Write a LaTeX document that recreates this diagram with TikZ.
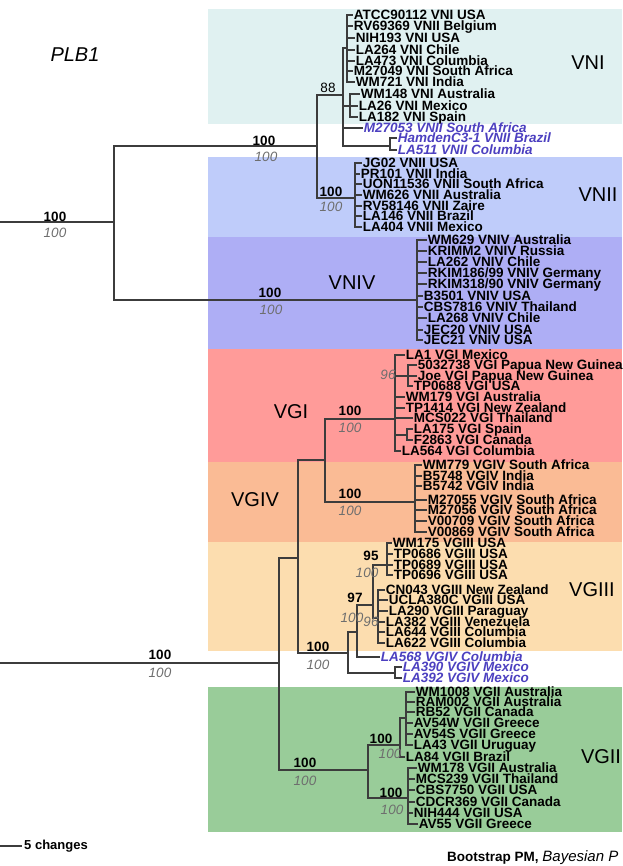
\documentclass[tikz,border=0pt]{standalone}
\usepackage{fontspec}
\setmainfont{Liberation Sans}
\usepackage{tikz}
\usetikzlibrary{positioning}
\definecolor{bandvni}{HTML}{E0F1F1}
\definecolor{bandvnii}{HTML}{BFCCFA}
\definecolor{bandvniv}{HTML}{AEAEF5}
\definecolor{bandvgi}{HTML}{FF9B99}
\definecolor{bandvgiv}{HTML}{FABB95}
\definecolor{bandvgiii}{HTML}{FCDDAF}
\definecolor{bandvgii}{HTML}{99CC99}
\definecolor{treegray}{HTML}{3C3C3C}
\definecolor{postgray}{HTML}{6E6E6E}
\definecolor{oddblue}{HTML}{4C40C0}
\tikzset{
  treeedge/.style  = {draw=treegray, line width=1.1pt},
  treetip/.style   = {anchor=west, inner sep=0.6pt, text height=9.7pt,
                      text depth=0pt, font=\fontsize{13.5}{13.5}\selectfont\bfseries},
  treestray/.style = {treetip, text=oddblue,
                      font=\fontsize{13.5}{13.5}\selectfont\bfseries\itshape},
  treeboot/.style  = {inner sep=0pt, font=\fontsize{13.5}{13.5}\selectfont\bfseries},
  treepost/.style  = {inner sep=0pt, text=postgray,
                      font=\fontsize{13.5}{13.5}\selectfont\itshape},
  treeclade/.style = {inner sep=0pt, font=\fontsize{20}{20}\selectfont},
}

\begin{document}
\begin{tikzpicture}[x=1pt, y=-1pt]
  \useasboundingbox (0,0) rectangle (622,866);
  % clade bands
  \fill[bandvni]   (208,9)   rectangle (622,124);
  \fill[bandvnii]  (208,157) rectangle (622,237);
  \fill[bandvniv]  (208,237) rectangle (622,349);
  \fill[bandvgi]   (208,349) rectangle (622,462);
  \fill[bandvgiv]  (208,462) rectangle (622,542);
  \fill[bandvgiii] (208,542) rectangle (622,651);
  \fill[bandvgii]  (208,687) rectangle (622,832);

  \node[treeclade, font=\fontsize{20}{20}\selectfont\itshape] (plb) at (75,55) {PLB1};
  \node[treeclade] (cvni)   at (588,63)  {VNI};
  \node[treeclade] (cvnii)  at (598,195) {VNII};
  \node[treeclade] (cvniv)  at (352,283) {VNIV};
  \node[treeclade] (cvgi)   at (291,412) {VGI};
  \node[treeclade] (cvgiv)  at (255,500) {VGIV};
  \node[treeclade] (cvgiii) at (592,590) {VGIII};
  \node[treeclade] (cvgii)  at (601,757) {VGII};

  % tips
  \node[treetip] (ni1) at (353,15) {ATCC90112 VNI USA};
  \node[treetip] (ni2) at (353,26) {RV69369 VNII Belgium};
  \node[treetip] (ni3) at (355,38) {NIH193 VNI USA};
  \node[treetip] (ni4) at (355,50) {LA264 VNI Chile};
  \node[treetip] (ni5) at (355,61) {LA473 VNI Columbia};
  \node[treetip] (ni6) at (353,71) {M27049 VNI South Africa};
  \node[treetip] (ni7) at (355,82) {WM721 VNI India};
  \node[treetip] (ni8) at (360,94) {WM148 VNI Australia};
  \node[treetip] (ni9) at (358,106) {LA26 VNI Mexico};
  \node[treetip] (ni10) at (358,117) {LA182 VNI Spain};
  \node[treestray] (ni11) at (363,128) {M27053 VNII South Africa};
  \node[treestray] (ni12) at (397,138) {HamdenC3-1 VNII Brazil};
  \node[treestray] (ni13) at (397,150) {LA511 VNII Columbia};

  \node[treetip] (nii1) at (362,163) {JG02 VNII USA};
  \node[treetip] (nii2) at (360,174) {PR101 VNII India};
  \node[treetip] (nii3) at (362,184) {UON11536 VNII South Africa};
  \node[treetip] (nii4) at (362,195) {WM626 VNII Australia};
  \node[treetip] (nii5) at (362,206) {RV58146 VNII Zaire};
  \node[treetip] (nii6) at (362,216) {LA146 VNII Brazil};
  \node[treetip] (nii7) at (362,227) {LA404 VNII Mexico};

  \node[treetip] (niv1) at (427,240) {WM629 VNIV Australia};
  \node[treetip] (niv2) at (427,251) {KRIMM2 VNIV Russia};
  \node[treetip] (niv3) at (427,262) {LA262 VNIV Chile};
  \node[treetip] (niv4) at (427,273) {RKIM186/99 VNIV Germany};
  \node[treetip] (niv5) at (427,284) {RKIM318/90 VNIV Germany};
  \node[treetip] (niv6) at (423,296) {B3501 VNIV USA};
  \node[treetip] (niv7) at (423,307) {CBS7816 VNIV Thailand};
  \node[treetip] (niv8) at (427,318) {LA268 VNIV Chile};
  \node[treetip] (niv9) at (423,330) {JEC20 VNIV USA};
  \node[treetip] (niv10) at (423,340) {JEC21 VNIV USA};

  \node[treetip] (gi1) at (405,355) {LA1 VGI Mexico};
  \node[treetip] (gi2) at (417,365) {5032738 VGI Papua New Guinea};
  \node[treetip] (gi3) at (417,376) {Joe VGI Papua New Guinea};
  \node[treetip] (gi4) at (413,386) {TP0688 VGI USA};
  \node[treetip] (gi5) at (405,397) {WM179 VGI Australia};
  \node[treetip] (gi6) at (405,408) {TP1414 VGI New Zealand};
  \node[treetip] (gi7) at (413,418) {MCS022 VGI Thailand};
  \node[treetip] (gi8) at (413,429) {LA175 VGI Spain};
  \node[treetip] (gi9) at (413,440) {F2863 VGI Canada};
  \node[treetip] (gi10) at (401,451) {LA564 VGI Columbia};

  \node[treetip] (giv1) at (422,465) {WM779 VGIV South Africa};
  \node[treetip] (giv2) at (422,476) {B5748 VGIV India};
  \node[treetip] (giv3) at (422,486) {B5742 VGIV India};
  \node[treetip] (giv4) at (427,500) {M27055 VGIV South Africa};
  \node[treetip] (giv5) at (427,510) {M27056 VGIV South Africa};
  \node[treetip] (giv6) at (427,521) {V00709 VGIV South Africa};
  \node[treetip] (giv7) at (427,532) {V00869 VGIV South Africa};

  \node[treetip] (giii1) at (392,543) {WM175 VGIII USA};
  \node[treetip] (giii2) at (393,554) {TP0686 VGIII USA};
  \node[treetip] (giii3) at (393,565) {TP0689 VGIII USA};
  \node[treetip] (giii4) at (393,575) {TP0696 VGIII USA};
  \node[treetip] (giii5) at (385,590) {CN043 VGIII New Zealand};
  \node[treetip] (giii6) at (388,600) {UCLA380C VGIII USA};
  \node[treetip] (giii7) at (388,611) {LA290 VGIII Paraguay};
  \node[treetip] (giii8) at (385,622) {LA382 VGIII Venezuela};
  \node[treetip] (giii9) at (385,632) {LA644 VGIII Columbia};
  \node[treetip] (giii10) at (385,643) {LA622 VGIII Columbia};
  \node[treestray] (giii11) at (380,657) {LA568 VGIV Columbia};
  \node[treestray] (giii12) at (402,667) {LA390 VGIV Mexico};
  \node[treestray] (giii13) at (402,678) {LA392 VGIV Mexico};

  \node[treetip] (gii1) at (415,692) {WM1008 VGII Australia};
  \node[treetip] (gii2) at (415,702) {RAM002 VGII Australia};
  \node[treetip] (gii3) at (415,712) {RB52 VGII Canada};
  \node[treetip] (gii4) at (413,723) {AV54W VGII Greece};
  \node[treetip] (gii5) at (413,734) {AV54S VGII Greece};
  \node[treetip] (gii6) at (413,745) {LA43 VGII Uruguay};
  \node[treetip] (gii7) at (405,757) {LA84 VGII Brazil};
  \node[treetip] (gii8) at (417,768) {WM178 VGII Australia};
  \node[treetip] (gii9) at (415,779) {MCS239 VGII Thailand};
  \node[treetip] (gii10) at (415,790) {CBS7750 VGII USA};
  \node[treetip] (gii11) at (415,802) {CDCR369 VGII Canada};
  \node[treetip] (gii12) at (413,813) {NIH444 VGII USA};
  \node[treetip] (gii13) at (418,824) {AV55 VGII Greece};

  % inner nodes
  \coordinate (rt1) at (0,222);
  \coordinate (rt2) at (0,663);
  \coordinate (nA) at (114,222);
  \coordinate (nB) at (317,146);
  \coordinate (nVNI) at (343,95);
  \coordinate (nVNIa) at (347,48);
  \coordinate (nVNIb) at (350,106);
  \coordinate (nHam) at (390,146);
  \coordinate (nVNII) at (355,198);
  \coordinate (nVNIV) at (417,300);
  \coordinate (nG) at (279,663);
  \coordinate (nGa) at (298,558);
  \coordinate (nGb) at (325,460);
  \coordinate (nVGI) at (395,419);
  \coordinate (nVGIa) at (408,376);
  \coordinate (nVGIb) at (407,435);
  \coordinate (nVGIV) at (415,502);
  \coordinate (nVGIII) at (348,653);
  \coordinate (nVGIIIa) at (357,632);
  \coordinate (n97) at (373,605);
  \coordinate (n95) at (387,565);
  \coordinate (n96) at (378,618);
  \coordinate (nLA390) at (395,673);
  \coordinate (nVGII) at (368,770);
  \coordinate (nVGIIa) at (400,745);
  \coordinate (nVGIIu) at (406,718);
  \coordinate (nVGIIb) at (408,798);

  % branches
  \draw[treeedge] (rt1) -- (nA);
  \draw[treeedge] (nA) |- (nB);
  \draw[treeedge] (nA) |- (nVNIV);
  \draw[treeedge] (nB) |- (nVNI);
  \draw[treeedge] (nB) |- (nVNII);
  \draw[treeedge] (nVNI) |- (nVNIa);
  \draw[treeedge] (nVNI) |- (nVNIb);
  \draw[treeedge] (nVNI) |- (ni11.west);
  \draw[treeedge] (nVNI) |- (nHam);
  \foreach \t in {1,...,7} \draw[treeedge] (nVNIa) |- (ni\t.west);
  \foreach \t in {8,9,10} \draw[treeedge] (nVNIb) |- (ni\t.west);
  \foreach \t in {12,13} \draw[treeedge] (nHam) |- (ni\t.west);
  \foreach \t in {1,...,7} \draw[treeedge] (nVNII) |- (nii\t.west);
  \foreach \t in {1,...,10} \draw[treeedge] (nVNIV) |- (niv\t.west);

  \draw[treeedge] (rt2) -- (nG);
  \draw[treeedge] (nG) |- (nGa);
  \draw[treeedge] (nG) |- (nVGII);
  \draw[treeedge] (nGa) |- (nGb);
  \draw[treeedge] (nGa) |- (nVGIII);
  \draw[treeedge] (nGb) |- (nVGI);
  \draw[treeedge] (nGb) |- (nVGIV);
  \foreach \t in {1,5,6,7,10} \draw[treeedge] (nVGI) |- (gi\t.west);
  \draw[treeedge] (nVGI) |- (nVGIa);
  \draw[treeedge] (nVGI) |- (nVGIb);
  \foreach \t in {2,3,4} \draw[treeedge] (nVGIa) |- (gi\t.west);
  \foreach \t in {8,9} \draw[treeedge] (nVGIb) |- (gi\t.west);
  \foreach \t in {1,...,7} \draw[treeedge] (nVGIV) |- (giv\t.west);
  \draw[treeedge] (nVGIII) |- (nVGIIIa);
  \draw[treeedge] (nVGIII) |- (nLA390);
  \draw[treeedge] (nVGIIIa) |- (n97);
  \draw[treeedge] (nVGIIIa) |- (giii11.west);
  \draw[treeedge] (n97) |- (n95);
  \draw[treeedge] (n97) |- (n96);
  \foreach \t in {1,...,4} \draw[treeedge] (n95) |- (giii\t.west);
  \foreach \t in {5,...,10} \draw[treeedge] (n96) |- (giii\t.west);
  \foreach \t in {12,13} \draw[treeedge] (nLA390) |- (giii\t.west);
  \draw[treeedge] (nVGII) |- (nVGIIa);
  \draw[treeedge] (nVGII) |- (nVGIIb);
  \draw[treeedge] (nVGIIa) |- (nVGIIu);
  \draw[treeedge] (nVGIIa) |- (gii7.west);
  \foreach \t in {1,...,6} \draw[treeedge] (nVGIIu) |- (gii\t.west);
  \foreach \t in {8,...,13} \draw[treeedge] (nVGIIb) |- (gii\t.west);

  % support values
  \node[treeboot] (b1) at (55,217) {100};
  \node[treepost] (p1) at (55,233) {100};
  \node[treeboot] (b2) at (264,141) {100};
  \node[treepost] (p2) at (266,157) {100};
  \node[treeboot] (b3) at (270,293) {100};
  \node[treepost] (p3) at (271,310) {100};
  \node[treeboot] (b4) at (331,192) {100};
  \node[treepost] (p4) at (331,207) {100};
  \node[treeboot, font=\fontsize{13.5}{13.5}\selectfont] (b5) at (328,88) {88};
  \node[treepost] (p5) at (388,375) {96};
  \node[treeboot] (b6) at (350,411) {100};
  \node[treepost] (p6) at (350,428) {100};
  \node[treeboot] (b7) at (350,494) {100};
  \node[treepost] (p7) at (350,511) {100};
  \node[treeboot] (b8) at (160,655) {100};
  \node[treepost] (p8) at (160,673) {100};
  \node[treeboot] (b9) at (318,647) {100};
  \node[treepost] (p9) at (318,665) {100};
  \node[treeboot] (b10) at (355,598) {97};
  \node[treepost] (p10) at (352,618) {100};
  \node[treepost] (p11) at (371,622) {96};
  \node[treeboot] (b12) at (371,556) {95};
  \node[treepost] (p12) at (367,573) {100};
  \node[treeboot] (b13) at (305,763) {100};
  \node[treepost] (p13) at (305,781) {100};
  \node[treeboot] (b14) at (381,739) {100};
  \node[treepost] (p14) at (390,754) {100};
  \node[treeboot] (b15) at (391,793) {100};
  \node[treepost] (p15) at (392,810) {100};

  % scale and legend
  \coordinate (sb0) at (0,846);
  \coordinate (sb1) at (22,846);
  \draw[treeedge] (sb0) -- (sb1);
  \node[treeboot, font=\fontsize{13}{13}\selectfont\bfseries, right=2pt of sb1] (sbl) {5 changes};
  \node[anchor=west, inner sep=0pt] (leg) at (447,858)
    {\fontsize{13.5}{13.5}\selectfont\bfseries Bootstrap PM,
     \fontsize{15}{15}\selectfont\mdseries\itshape Bayesian P};
\end{tikzpicture}
\end{document}
